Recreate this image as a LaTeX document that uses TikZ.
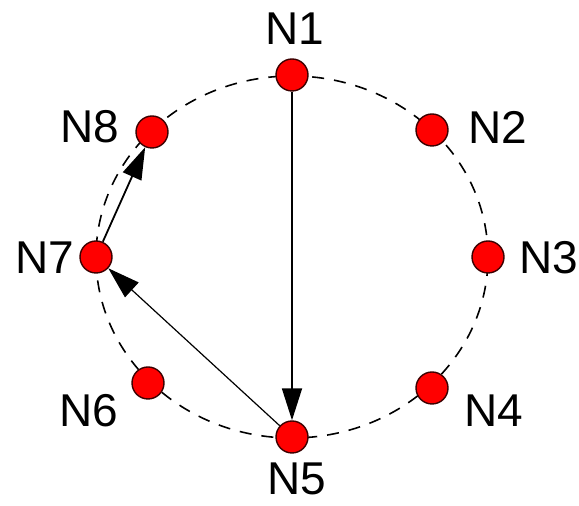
\documentclass[tikz,border=0pt]{standalone}
\usepackage{fontspec}
\setmainfont{Liberation Sans}
\usetikzlibrary{arrows.meta}
\definecolor{RingNodeRed}{RGB}{255,0,0}
\definecolor{RingEdge}{RGB}{60,0,0}

\begin{document}
\begin{tikzpicture}[x=0.5pt,y=0.5pt,
 peer/.style={circle,draw=RingEdge,line width=0.7pt,fill=RingNodeRed,
 minimum size=16pt,inner sep=0pt},
 tag/.style={inner sep=0pt,font=\fontsize{23}{27}\selectfont},
 ring/.style={line width=0.8pt,dash pattern=on 6pt off 5pt,draw=black},
 hop/.style={-{Triangle[length=16pt,width=10pt]},line width=0.9pt,draw=black}]
\useasboundingbox (0,0) rectangle (579,506);
\draw[ring] (292,249) ellipse [x radius=98pt,y radius=90.5pt];
% ring members
\node[peer] (n1) at (292,431) {};
\node[peer] (n2) at (432,376) {};
\node[peer] (n3) at (488,249) {};
\node[peer] (n4) at (432,118) {};
\node[peer] (n5) at (292,69) {};
\node[peer] (n6) at (148,123) {};
\node[peer] (n7) at (96,249) {};
\node[peer] (n8) at (152,374) {};
% labels
\node[tag] (t1) at (295,477) {N1};
\node[tag] (t2) at (498,379) {N2};
\node[tag] (t3) at (549,248) {N3};
\node[tag] (t4) at (494,95) {N4};
\node[tag] (t5) at (297,27) {N5};
\node[tag] (t6) at (89,95) {N6};
\node[tag] (t7) at (45,248) {N7};
\node[tag] (t8) at (90,379) {N8};
% lookups
\draw[hop] (n1) -- (n5);
\draw[hop,line width=0.6pt] (n5) -- (n7);
\draw[hop] (n7) -- (n8);
\end{tikzpicture}
\end{document}
